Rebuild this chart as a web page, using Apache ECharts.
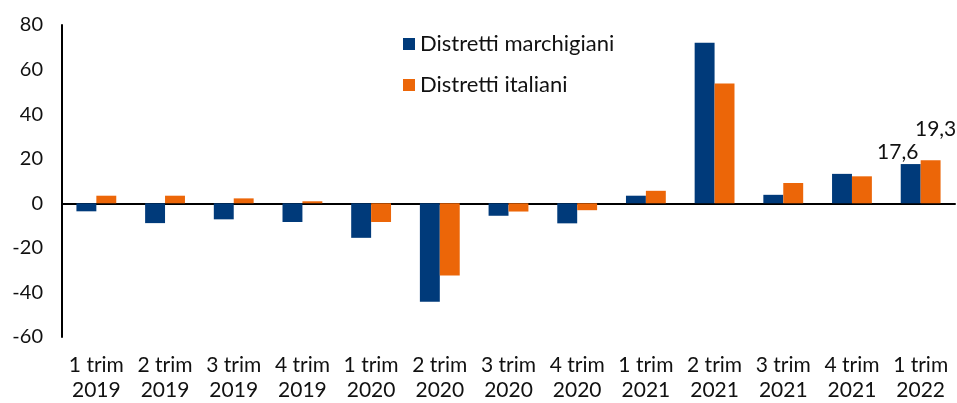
<!DOCTYPE html>
<html>
<head>
<meta charset="utf-8">
<script src="https://cdn.jsdelivr.net/npm/echarts@6/dist/echarts.min.js"></script>
<style>
  html, body { margin: 0; padding: 0; background: #fff; }
  #chart { width: 957px; height: 403px; }
</style>
</head>
<body>
<div id="chart"></div>
<script>
// dati
const categories = [
  '1 trim\n2019', '2 trim\n2019', '3 trim\n2019', '4 trim\n2019',
  '1 trim\n2020', '2 trim\n2020', '3 trim\n2020', '4 trim\n2020',
  '1 trim\n2021', '2 trim\n2021', '3 trim\n2021', '4 trim\n2021',
  '1 trim\n2022'
];
const marchigiani = [-3.6, -8.9, -7.2, -8.4, -15.5, -44.2, -5.6, -9.0, 3.4, 72.0, 3.8, 13.2, 17.6];
const italiani = [3.4, 3.4, 2.2, 0.9, -8.4, -32.4, -3.7, -3.1, 5.6, 53.7, 9.1, 12.1, 19.3];
const yTicks = [-60, -40, -20, 0, 20, 40, 60, 80];

const FONT = 'Lato';
const last = categories.length - 1;

// solo l'ultimo valore ha l'etichetta
function withLastLabel(arr, offset) {
  return arr.map((v, i) => i === last ? {
    value: v,
    label: {
      show: true, position: 'top', offset: offset,
      formatter: p => String(p.value).replace('.', ','),
      color: '#111', fontSize: 21, fontFamily: FONT
    }
  } : v);
}

const chart = echarts.init(document.getElementById('chart'));
const option = {
  animation: false,
  textStyle: { fontFamily: FONT },
  grid: { left: 62, right: 2, top: 25, bottom: 61 },
  legend: {
    orient: 'vertical',
    left: 398, top: 28,
    itemWidth: 12, itemHeight: 12,
    itemGap: 19,
    icon: 'rect',
    textStyle: { fontSize: 22, color: '#111', fontFamily: FONT },
    data: ['Distretti marchigiani', 'Distretti italiani']
  },
  xAxis: {
    type: 'category',
    data: categories,
    axisLine: { onZero: true, lineStyle: { color: '#000', width: 2 } },
    axisTick: { show: false },
    axisLabel: {
      interval: 0, fontSize: 21, color: '#111', fontFamily: FONT,
      lineHeight: 25, margin: 16
    }
  },
  yAxis: {
    type: 'value',
    min: yTicks[0], max: yTicks[yTicks.length - 1], interval: 20,
    axisLine: { show: true, lineStyle: { color: '#000', width: 2 } },
    axisTick: { show: false },
    splitLine: { show: false },
    axisLabel: { fontSize: 20, color: '#111', fontFamily: FONT, margin: 19 }
  },
  series: [
    {
      name: 'Distretti marchigiani', type: 'bar',
      data: withLastLabel(marchigiani, [-13, 4]),
      itemStyle: { color: '#003A7A' },
      barGap: '0%', barCategoryGap: '42%'
    },
    {
      name: 'Distretti italiani', type: 'bar',
      data: withLastLabel(italiani, [5, -16]),
      itemStyle: { color: '#EC6608' }
    }
  ]
};
option && chart.setOption(option);
</script>
</body>
</html>
